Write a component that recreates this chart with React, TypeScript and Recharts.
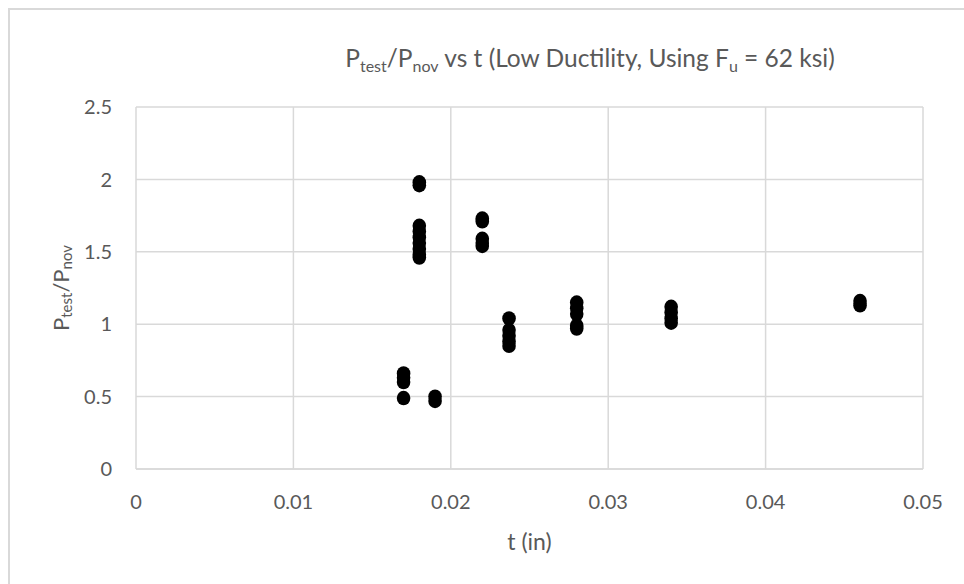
import { CartesianGrid, Scatter, ScatterChart, XAxis, YAxis } from "recharts";

// thickness of each tested group (in)
const thickness = [0.017, 0.018, 0.019, 0.022, 0.0237, 0.028, 0.034, 0.046];

// Ptest/Pnov for each group
const ratios = [
	[0.66, 0.63, 0.6, 0.49],
	[1.98, 1.96, 1.68, 1.64, 1.6, 1.56, 1.52, 1.48, 1.46],
	[0.5, 0.47],
	[1.73, 1.71, 1.59, 1.56, 1.54],
	[1.04, 0.96, 0.92, 0.88, 0.85],
	[1.15, 1.11, 1.07, 0.99, 0.97],
	[1.12, 1.08, 1.04, 1.01],
	[1.16, 1.13],
];

const xTicks = [0, 0.01, 0.02, 0.03, 0.04, 0.05];
const yTicks = [0, 0.5, 1, 1.5, 2, 2.5];

const FONT = "Lato, 'Open Sans', sans-serif";
const GRAY = "#595959";

const points = thickness.flatMap((t, i) => ratios[i].map((r) => ({ t, r })));

function Dot(props: any) {
	const { cx, cy } = props;
	return <ellipse cx={cx} cy={cy} rx={6.8} ry={7.2} fill="#000" />;
}

function YTitle(props: any) {
	const { viewBox } = props;
	const cx = 60;
	const cy = viewBox.y + viewBox.height / 2;
	return (
		<text
			x={cx}
			y={cy}
			transform={`rotate(-90 ${cx} ${cy})`}
			textAnchor="middle"
			dominantBaseline="central"
			fontFamily={FONT}
			fontSize={22}
			fill={GRAY}
		>
			P
			<tspan fontSize={15} dy={6}>
				test
			</tspan>
			<tspan dy={-6}>/P</tspan>
			<tspan fontSize={15} dy={6}>
				nov
			</tspan>
		</text>
	);
}

function XTitle(props: any) {
	const { viewBox } = props;
	return (
		<text
			x={viewBox.x + viewBox.width / 2}
			y={550}
			textAnchor="middle"
			fontFamily={FONT}
			fontSize={23}
			fill={GRAY}
		>
			t (in)
		</text>
	);
}

export default function App() {
	return (
		<div
			style={{
				position: "absolute",
				left: 0,
				top: 0,
				width: 964,
				height: 584,
				overflow: "hidden",
				background: "#fff",
				fontFamily: FONT,
			}}
		>
			<div
				style={{
					position: "absolute",
					left: 8,
					top: 8,
					right: -4,
					bottom: -4,
					border: "2px solid #d9d9d9",
				}}
			/>
			<div
				style={{
					position: "absolute",
					left: 0,
					width: 1180,
					top: 42,
					textAlign: "center",
					fontSize: 24.5,
					color: GRAY,
					whiteSpace: "nowrap",
					lineHeight: "32px",
				}}
			>
				P<sub style={{ fontSize: 16, verticalAlign: "-5px" }}>test</sub>/P
				<sub style={{ fontSize: 16, verticalAlign: "-5px" }}>nov</sub> vs t (Low
				Ductility, Using F
				<sub style={{ fontSize: 16, verticalAlign: "-5px" }}>u</sub> = 62 ksi)
			</div>
			<ScatterChart
				width={964}
				height={584}
				margin={{ top: 107, right: 41, bottom: 85, left: 76 }}
				style={{ position: "absolute", left: 0, top: 0 }}
			>
				<CartesianGrid stroke="#d9d9d9" strokeWidth={1.5} />
				<XAxis
					type="number"
					dataKey="t"
					domain={[0, 0.05]}
					ticks={xTicks}
					height={30}
					tickLine={false}
					tickSize={0}
					tickMargin={26}
					axisLine={{ stroke: "#d9d9d9", strokeWidth: 1.5 }}
					tick={{ fill: GRAY, fontSize: 20, fontFamily: FONT }}
					label={<XTitle />}
				/>
				<YAxis
					type="number"
					dataKey="r"
					domain={[0, 2.5]}
					ticks={yTicks}
					width={60}
					tickLine={false}
					tickSize={0}
					tickMargin={24}
					axisLine={false}
					tick={{ fill: GRAY, fontSize: 20, fontFamily: FONT }}
					label={<YTitle />}
				/>
				<Scatter data={points} shape={<Dot />} isAnimationActive={false} />
			</ScatterChart>
		</div>
	);
}
